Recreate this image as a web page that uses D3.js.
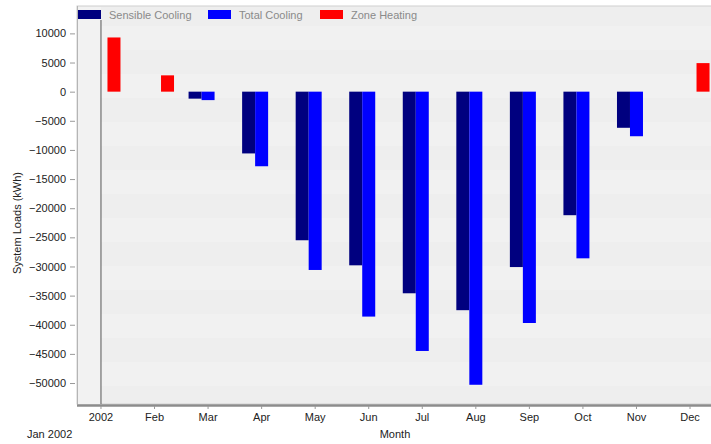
<!DOCTYPE html>
<html>
<head>
<meta charset="utf-8">
<script src="https://cdn.jsdelivr.net/npm/d3@7"></script>
<style>
  html, body { margin: 0; padding: 0; background: #ffffff; }
  svg { display: block; font-family: Arial, "Liberation Sans", sans-serif; }
</style>
</head>
<body>
<svg id="chart" width="711" height="444"></svg>
<script>
// ---- data ----
const months = ["Jan","Feb","Mar","Apr","May","Jun","Jul","Aug","Sep","Oct","Nov","Dec"];
const monthLabels = ["2002","Feb","Mar","Apr","May","Jun","Jul","Aug","Sep","Oct","Nov","Dec"];
const seriesNames = ["Sensible Cooling","Total Cooling","Zone Heating"];
const seriesColors = ["#00007f","#0000ff","#ff0000"];
const sensibleCooling = [0, 0, -1200, -10600, -25500, -29800, -34600, -37500, -30100, -21200, -6200, 0];
const totalCooling    = [0, 0, -1450, -12800, -30600, -38600, -44500, -50300, -39700, -28600, -7650, 0];
const zoneHeating     = [9300, 2800, 0, 0, 0, 0, 0, 0, 0, 0, 0, 4900];
const yTicks = [10000,5000,0,-5000,-10000,-15000,-20000,-25000,-30000,-35000,-40000,-45000,-50000];

const seriesValues = [sensibleCooling, totalCooling, zoneHeating];

const svg = d3.select("#chart");
const plot = {left: 77, right: 716, top: 6, bottom: 404};

const y = d3.scaleLinear().domain([-53600, 14700]).range([plot.bottom, plot.top]);
const x = d3.scaleBand().domain(months).range([74.2, 716.8]).padding(0);
const inner = d3.scaleBand().domain(d3.range(3)).range([-19.5, 19.5]).padding(0);

// plot background
svg.append("rect")
  .attr("x", plot.left).attr("y", plot.top)
  .attr("width", plot.right - plot.left).attr("height", plot.bottom - plot.top)
  .attr("fill", "#eeeeee").attr("stroke", "#d0d0d0");

// very subtle horizontal banding
const bands = d3.range(0, 8);
svg.append("g").selectAll("rect").data(bands).enter().append("rect")
  .attr("x", plot.left + 1)
  .attr("y", d => plot.top + 20 + d * 48)
  .attr("width", plot.right - plot.left - 2)
  .attr("height", 24)
  .attr("fill", "#f1f1f1");

// left panel (before Jan 1)
svg.append("rect")
  .attr("x", plot.left + 1).attr("y", plot.top + 1)
  .attr("width", x("Jan") + x.bandwidth() / 2 - plot.left - 1)
  .attr("height", plot.bottom - plot.top - 1)
  .attr("fill", "#f2f2f2");

// bars
const gBars = svg.append("g");
seriesValues.forEach((vals, si) => {
  gBars.append("g").selectAll("rect").data(months.map((m, i) => ({m, v: vals[i]})))
    .enter().append("rect")
    .filter(d => d.v !== 0)
    .attr("x", d => x(d.m) + x.bandwidth() / 2 + inner(si))
    .attr("width", inner.bandwidth())
    .attr("y", d => y(Math.max(0, d.v)))
    .attr("height", d => Math.abs(y(d.v) - y(0)))
    .attr("fill", seriesColors[si]);
});

// Jan 1 vertical line
const janX = x("Jan") + x.bandwidth() / 2;
svg.append("line")
  .attr("x1", janX).attr("x2", janX)
  .attr("y1", plot.top + 14).attr("y2", plot.bottom)
  .attr("stroke", "#555").attr("stroke-width", 1);

// bottom shadow
svg.append("line")
  .attr("x1", plot.left).attr("x2", plot.right)
  .attr("y1", plot.bottom + 1.5).attr("y2", plot.bottom + 1.5)
  .attr("stroke", "#8c8c8c").attr("stroke-width", 2.5);
svg.append("line")
  .attr("x1", plot.left + 0.5).attr("x2", plot.left + 0.5)
  .attr("y1", plot.top).attr("y2", plot.bottom)
  .attr("stroke", "#b5b5b5").attr("stroke-width", 1);

// y axis
const yAxis = svg.append("g")
  .attr("transform", `translate(${plot.left - 2},0)`)
  .call(d3.axisLeft(y).tickValues(yTicks).tickSize(5).tickPadding(4).tickFormat(d3.format("d")));
yAxis.select(".domain").remove();
yAxis.selectAll(".tick line").attr("stroke", "#999");
yAxis.selectAll(".tick text").attr("fill", "#222").style("font-size", "11px");

// x axis
const xAxis = svg.append("g")
  .attr("transform", `translate(0,${plot.bottom + 2})`)
  .call(d3.axisBottom(x).tickSize(3).tickPadding(4).tickFormat((d, i) => monthLabels[i]));
xAxis.select(".domain").remove();
xAxis.selectAll(".tick line").attr("stroke", "#999");
xAxis.selectAll(".tick text").attr("fill", "#222").style("font-size", "11px");

// axis titles
svg.append("text")
  .attr("transform", `translate(21,${(plot.top + plot.bottom) / 2 + 18}) rotate(-90)`)
  .attr("text-anchor", "middle")
  .attr("fill", "#222").style("font-size", "11px")
  .text("System Loads (kWh)");
svg.append("text")
  .attr("x", 395).attr("y", 438)
  .attr("text-anchor", "middle")
  .attr("fill", "#222").style("font-size", "11px")
  .text("Month");
svg.append("text")
  .attr("x", 27).attr("y", 438)
  .attr("fill", "#222").style("font-size", "11px")
  .text("Jan 2002");

// legend
const legendX = [78, 208, 320];
const legend = svg.append("g");
seriesNames.forEach((name, i) => {
  legend.append("rect")
    .attr("x", legendX[i]).attr("y", 10)
    .attr("width", 23).attr("height", 9)
    .attr("fill", seriesColors[i]);
  legend.append("text")
    .attr("x", legendX[i] + 31).attr("y", 19)
    .attr("fill", "#8a8a8a").style("font-size", "11px")
    .text(name);
});
</script>
</body>
</html>
